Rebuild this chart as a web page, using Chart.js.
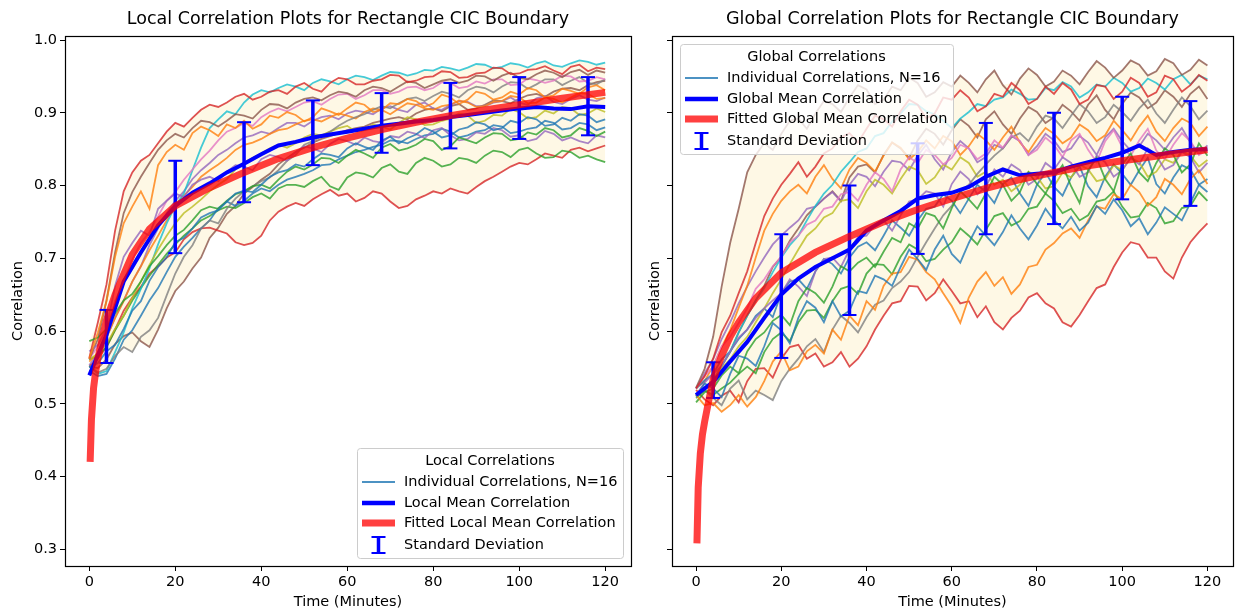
<!DOCTYPE html>
<html>
<head>
<meta charset="utf-8">
<title>Correlation Plots for Rectangle CIC Boundary</title>
<script src="https://cdn.jsdelivr.net/npm/chart.js@4.4.1/dist/chart.umd.min.js"></script>
<style>
  html, body { margin: 0; padding: 0; background: #fff; overflow: hidden; }
  #wrap { position: relative; width: 1238px; height: 610px; overflow: hidden; }
  canvas { position: absolute; top: 0; }
  #cl { left: 0; }
  #cr { left: 640px; }
</style>
</head>
<body>
<div id="wrap">
  <canvas id="cl" width="640" height="610"></canvas>
  <canvas id="cr" width="602" height="610"></canvas>
</div>
<script>
// sample times (minutes): runs every 2 min, mean every 4 min
const runX = [0,2,4,6,8,10,12,14,16,18,20,22,24,26,28,30,32,34,36,38,40,42,44,46,48,50,52,54,56,58,60,
  62,64,66,68,70,72,74,76,78,80,82,84,86,88,90,92,94,96,98,100,102,104,106,108,110,112,114,116,118,120];
const meanX = [0,4,8,12,16,20,24,28,32,36,40,44,48,52,56,60,64,68,72,76,80,84,88,92,96,100,104,108,112,116,120];
const xTicks = [0,20,40,60,80,100,120];
const yTicks = [0.3,0.4,0.5,0.6,0.7,0.8,0.9,1.0];
const errX = [4,20,36,52,68,84,100,116];
const fitX = [0.2,0.5,1,1.5,2,3,4,6,8,10,14,20,28,36,44,52,60,68,76,84,92,100,110,120];

// ---- local correlations (left)
const localBlueA   = [.550,.556,.572,.581,.603,.628,.641,.669,.688,.701,.722,.728,.741,.756,.762,.766,.778,.789,.793,.791,.801,.812,.818,.821,.829,.826,.836,.844,.842,.839,.851,.858,.853,.849,.862,.867,.858,.865,.870,.879,.874,.866,.869,.877,.880,.887,.884,.876,.879,.889,.886,.894,.891,.882,.884,.893,.889,.898,.896,.887,.891];
const localOrangeA = [.562,.598,.641,.702,.748,.771,.792,.768,.828,.846,.856,.849,.872,.881,.876,.868,.884,.879,.889,.878,.884,.896,.893,.901,.897,.888,.894,.906,.902,.897,.906,.914,.911,.901,.904,.913,.912,.919,.916,.908,.913,.925,.921,.912,.918,.929,.926,.918,.921,.929,.925,.934,.931,.921,.924,.933,.930,.926,.935,.938,.931];
const localGreenA  = [.586,.591,.603,.624,.642,.651,.668,.689,.703,.718,.731,.739,.752,.766,.771,.768,.779,.788,.792,.799,.801,.796,.808,.819,.826,.822,.829,.838,.837,.831,.841,.849,.844,.838,.852,.857,.848,.851,.856,.864,.861,.849,.854,.866,.862,.858,.866,.872,.871,.862,.864,.873,.870,.879,.876,.866,.869,.879,.875,.868,.874];
const localRedA    = [.563,.612,.664,.738,.792,.818,.834,.842,.858,.874,.886,.881,.893,.904,.911,.908,.914,.922,.926,.918,.922,.929,.931,.926,.936,.941,.933,.929,.941,.948,.946,.939,.939,.944,.946,.952,.951,.942,.944,.949,.950,.957,.956,.948,.949,.954,.955,.962,.961,.953,.954,.959,.960,.964,.958,.953,.963,.966,.957,.962,.960];
const localPurpleA = [.572,.581,.603,.662,.702,.721,.738,.731,.768,.779,.789,.784,.801,.808,.812,.806,.819,.828,.826,.821,.836,.842,.839,.834,.846,.854,.851,.846,.857,.864,.861,.856,.866,.861,.859,.868,.866,.874,.871,.865,.876,.879,.869,.862,.864,.873,.871,.879,.876,.867,.869,.861,.864,.875,.871,.862,.866,.861,.858,.869,.866];
const localBrownA  = [.561,.589,.642,.708,.762,.791,.812,.831,.849,.862,.871,.866,.879,.889,.887,.881,.889,.898,.896,.892,.904,.912,.911,.906,.914,.919,.921,.917,.924,.929,.927,.922,.931,.936,.934,.929,.936,.943,.941,.934,.939,.944,.946,.941,.944,.951,.950,.944,.951,.955,.948,.946,.953,.958,.955,.949,.956,.959,.952,.958,.955];
const localPinkA   = [.562,.579,.604,.641,.668,.698,.721,.736,.758,.779,.791,.808,.822,.836,.848,.862,.874,.879,.886,.882,.894,.901,.906,.902,.908,.914,.916,.911,.919,.925,.926,.919,.924,.931,.931,.926,.929,.935,.936,.931,.934,.942,.941,.934,.936,.943,.940,.946,.946,.938,.939,.947,.945,.941,.944,.951,.950,.943,.944,.949,.946];
const localGrayA   = [.552,.543,.548,.566,.578,.571,.592,.601,.618,.649,.679,.702,.718,.741,.752,.748,.768,.782,.792,.799,.806,.811,.821,.834,.842,.856,.861,.868,.874,.882,.889,.894,.898,.904,.909,.906,.913,.919,.921,.916,.923,.929,.926,.921,.931,.936,.934,.928,.936,.942,.941,.933,.939,.946,.946,.938,.944,.949,.941,.939,.946];
const localOliveA  = [.561,.569,.582,.603,.621,.646,.668,.691,.712,.731,.748,.762,.771,.781,.792,.801,.809,.822,.831,.838,.844,.851,.856,.852,.858,.866,.871,.869,.874,.879,.882,.874,.876,.884,.881,.877,.886,.894,.891,.883,.884,.889,.892,.899,.896,.886,.889,.897,.896,.905,.901,.892,.894,.903,.899,.908,.906,.897,.899,.906,.901];
const localCyanA   = [.552,.541,.545,.571,.598,.631,.658,.686,.719,.748,.772,.789,.821,.852,.879,.891,.902,.898,.914,.925,.931,.928,.934,.939,.936,.931,.941,.946,.943,.939,.946,.951,.949,.945,.951,.956,.955,.951,.954,.959,.958,.963,.961,.958,.962,.967,.966,.961,.963,.968,.966,.962,.968,.971,.965,.963,.968,.972,.970,.966,.969];
const localBlueB   = [.545,.538,.541,.562,.588,.601,.621,.642,.659,.681,.702,.716,.728,.741,.752,.769,.778,.772,.779,.789,.796,.792,.801,.808,.812,.816,.821,.828,.829,.836,.841,.846,.849,.853,.856,.862,.861,.858,.864,.869,.871,.878,.874,.866,.869,.874,.876,.883,.881,.872,.874,.878,.880,.889,.886,.877,.879,.886,.884,.876,.880];
const localOrangeB = [.558,.569,.591,.618,.641,.668,.689,.711,.731,.752,.772,.786,.798,.812,.821,.829,.838,.849,.856,.859,.864,.871,.876,.878,.884,.889,.891,.888,.894,.899,.896,.892,.901,.906,.904,.898,.906,.913,.911,.906,.904,.909,.911,.917,.914,.908,.909,.915,.916,.923,.921,.913,.914,.921,.919,.914,.921,.927,.926,.919,.920];
const localGreenB  = [.561,.566,.578,.601,.621,.642,.659,.676,.691,.706,.719,.731,.741,.752,.758,.766,.771,.769,.776,.784,.789,.782,.796,.801,.801,.798,.806,.812,.799,.794,.811,.818,.816,.811,.824,.829,.819,.816,.831,.838,.834,.826,.829,.838,.836,.831,.841,.848,.846,.839,.849,.852,.844,.838,.839,.848,.846,.838,.841,.836,.832];
const localRedB    = [.551,.562,.578,.602,.628,.646,.661,.679,.689,.701,.708,.726,.736,.741,.742,.738,.734,.722,.718,.721,.731,.752,.764,.771,.776,.772,.781,.788,.794,.786,.789,.778,.783,.792,.789,.778,.769,.772,.781,.786,.792,.789,.796,.792,.789,.798,.806,.812,.819,.826,.831,.829,.836,.844,.841,.838,.849,.852,.847,.851,.855];
const localPurpleB = [.553,.569,.591,.618,.642,.668,.689,.718,.741,.762,.779,.792,.809,.821,.831,.842,.849,.858,.866,.869,.874,.871,.879,.886,.886,.881,.889,.894,.896,.891,.899,.903,.901,.898,.906,.909,.904,.901,.911,.914,.906,.904,.911,.916,.915,.909,.909,.914,.916,.921,.914,.911,.920,.923,.915,.912,.919,.924,.918,.916,.921];
const localBrownB  = [.551,.549,.561,.582,.593,.598,.586,.578,.602,.631,.655,.668,.686,.701,.728,.742,.761,.772,.789,.798,.808,.816,.829,.838,.846,.852,.859,.864,.868,.872,.876,.879,.881,.886,.889,.892,.894,.891,.899,.904,.906,.902,.909,.912,.904,.906,.911,.917,.916,.913,.919,.924,.926,.922,.929,.933,.934,.931,.938,.942,.944];
const localMean    = [.539,.595,.668,.708,.745,.772,.790,.803,.818,.830,.843,.855,.860,.866,.870,.874,.878,.882,.885,.888,.890,.894,.897,.900,.903,.906,.908,.906,.905,.909,.908];
const localErrLo   = [.556,.707,.777,.828,.845,.851,.864,.869];
const localErrHi   = [.629,.834,.887,.917,.927,.941,.949,.949];
const localFit     = [.420,.478,.522,.545,.562,.590,.615,.650,.678,.705,.740,.772,.797,.818,.837,.852,.865,.877,.887,.896,.904,.911,.920,.928];

// ---- global correlations (right)
const globalBlueA   = [.510,.528,.521,.509,.541,.566,.562,.552,.579,.611,.601,.583,.618,.641,.632,.612,.641,.620,.628,.655,.652,.676,.671,.662,.688,.712,.699,.684,.712,.731,.706,.694,.721,.744,.731,.718,.736,.759,.741,.726,.745,.768,.752,.741,.757,.738,.749,.772,.761,.781,.766,.744,.755,.733,.749,.770,.761,.752,.776,.801,.791];
const globalOrangeA = [.512,.498,.501,.489,.498,.512,.496,.509,.531,.558,.572,.546,.551,.572,.581,.569,.602,.588,.621,.608,.641,.629,.662,.679,.681,.702,.698,.681,.671,.652,.634,.611,.646,.668,.681,.662,.674,.651,.664,.688,.691,.712,.721,.734,.741,.728,.752,.771,.768,.788,.781,.801,.791,.772,.784,.809,.801,.788,.809,.821,.802];
const globalGreenA  = [.502,.516,.521,.539,.551,.542,.572,.589,.598,.614,.622,.608,.641,.659,.652,.639,.661,.689,.682,.694,.701,.688,.709,.728,.722,.748,.741,.762,.758,.741,.769,.792,.781,.768,.789,.812,.801,.779,.791,.818,.802,.789,.811,.828,.799,.776,.821,.838,.809,.792,.829,.844,.818,.806,.831,.851,.842,.818,.829,.858,.841];
const globalRedA    = [.521,.538,.562,.598,.621,.652,.682,.721,.758,.782,.801,.816,.832,.812,.826,.844,.851,.866,.872,.859,.878,.896,.891,.881,.902,.918,.911,.892,.899,.921,.918,.931,.921,.902,.909,.926,.922,.941,.931,.912,.919,.936,.926,.941,.932,.912,.918,.938,.936,.919,.929,.948,.941,.922,.928,.951,.946,.929,.938,.952,.944];
const globalPurpleA = [.512,.529,.541,.552,.572,.591,.602,.618,.631,.642,.652,.671,.661,.648,.682,.699,.701,.688,.712,.729,.731,.746,.752,.738,.759,.778,.781,.792,.789,.771,.802,.819,.809,.788,.798,.822,.812,.829,.821,.801,.809,.831,.822,.839,.831,.812,.818,.841,.832,.812,.821,.838,.829,.851,.841,.822,.828,.846,.839,.818,.831];
const globalBrownA  = [.522,.548,.592,.661,.721,.768,.818,.842,.858,.849,.871,.889,.892,.878,.899,.916,.912,.901,.921,.938,.932,.912,.918,.936,.931,.948,.941,.922,.928,.942,.936,.951,.941,.928,.946,.958,.938,.925,.947,.961,.952,.936,.943,.958,.951,.939,.956,.971,.962,.948,.958,.972,.966,.951,.957,.974,.968,.952,.959,.973,.965];
const globalPinkA   = [.521,.538,.551,.579,.592,.611,.631,.658,.671,.689,.702,.722,.731,.746,.752,.768,.771,.788,.791,.779,.801,.818,.809,.792,.822,.839,.831,.849,.842,.829,.838,.856,.851,.836,.844,.862,.852,.869,.861,.842,.849,.866,.856,.839,.862,.871,.849,.832,.861,.876,.853,.841,.862,.878,.848,.836,.856,.872,.861,.842,.849];
const globalGrayA   = [.512,.519,.508,.498,.521,.532,.506,.518,.512,.505,.531,.548,.562,.579,.589,.571,.602,.621,.611,.598,.619,.636,.642,.659,.668,.681,.702,.722,.741,.759,.772,.791,.801,.816,.829,.841,.851,.866,.872,.861,.881,.896,.892,.879,.896,.912,.902,.886,.894,.911,.901,.889,.906,.918,.899,.886,.904,.921,.909,.891,.903];
const globalOliveA  = [.511,.522,.531,.549,.561,.579,.592,.612,.631,.652,.671,.692,.712,.731,.741,.756,.762,.779,.781,.769,.792,.808,.801,.789,.809,.826,.821,.802,.811,.829,.822,.839,.831,.812,.819,.801,.808,.792,.801,.819,.812,.796,.799,.818,.811,.829,.822,.806,.809,.828,.821,.838,.832,.812,.819,.836,.831,.848,.841,.826,.835];
const globalCyanA   = [.512,.521,.531,.552,.572,.598,.621,.642,.659,.681,.701,.718,.731,.752,.772,.789,.801,.819,.832,.846,.851,.868,.872,.888,.899,.912,.911,.902,.898,.889,.879,.892,.901,.912,.909,.918,.921,.932,.926,.918,.919,.934,.931,.942,.936,.921,.928,.939,.936,.948,.941,.929,.934,.947,.941,.932,.946,.952,.939,.951,.946];
const globalBlueB   = [.521,.532,.541,.561,.572,.589,.602,.621,.631,.619,.652,.668,.671,.658,.682,.699,.692,.679,.701,.716,.722,.711,.731,.752,.742,.731,.752,.768,.771,.788,.779,.762,.782,.801,.791,.776,.802,.811,.789,.772,.801,.818,.798,.786,.811,.826,.799,.784,.812,.829,.816,.801,.821,.838,.802,.789,.811,.828,.822,.801,.809];
const globalOrangeB = [.522,.531,.552,.578,.601,.632,.662,.701,.738,.761,.779,.792,.801,.789,.812,.828,.809,.796,.822,.838,.831,.819,.841,.859,.852,.836,.846,.862,.851,.868,.861,.842,.854,.871,.862,.849,.866,.881,.859,.846,.864,.879,.871,.858,.866,.884,.876,.861,.869,.889,.876,.862,.881,.896,.874,.861,.879,.892,.886,.868,.881];
const globalGreenB  = [.508,.518,.512,.521,.529,.541,.551,.542,.571,.589,.598,.586,.612,.628,.629,.618,.641,.658,.662,.651,.679,.692,.691,.678,.702,.719,.712,.696,.699,.712,.722,.741,.731,.719,.739,.758,.762,.745,.751,.768,.771,.789,.779,.762,.768,.752,.759,.778,.781,.792,.771,.756,.758,.776,.769,.748,.751,.769,.772,.791,.779];
const globalRedB    = [.519,.506,.498,.511,.518,.502,.531,.548,.549,.536,.562,.578,.581,.562,.569,.551,.557,.571,.551,.562,.579,.602,.621,.638,.641,.662,.661,.642,.652,.671,.655,.638,.641,.619,.634,.612,.602,.618,.628,.646,.652,.638,.631,.612,.606,.622,.641,.659,.664,.688,.708,.722,.719,.701,.701,.682,.672,.701,.722,.736,.748];
const globalPurpleB = [.521,.542,.561,.589,.612,.638,.661,.682,.701,.719,.731,.742,.752,.768,.771,.782,.791,.778,.801,.816,.812,.799,.819,.834,.832,.821,.841,.856,.836,.822,.846,.861,.851,.832,.839,.856,.851,.868,.861,.842,.854,.871,.862,.846,.851,.868,.859,.842,.866,.878,.861,.848,.854,.871,.862,.849,.866,.879,.859,.843,.855];
const globalBrownB  = [.511,.519,.532,.552,.571,.598,.621,.642,.662,.688,.702,.724,.741,.759,.771,.782,.792,.779,.811,.826,.829,.818,.842,.859,.851,.838,.862,.878,.871,.856,.876,.891,.882,.866,.891,.902,.884,.871,.892,.908,.901,.886,.894,.911,.902,.889,.911,.924,.904,.891,.912,.928,.921,.906,.914,.931,.922,.908,.926,.936,.919];
const globalMean    = [.512,.530,.558,.585,.618,.650,.672,.688,.700,.712,.738,.752,.765,.782,.787,.790,.798,.812,.822,.814,.816,.818,.826,.832,.838,.845,.855,.842,.846,.849,.850];
const globalErrLo   = [.508,.563,.622,.706,.733,.747,.781,.772];
const globalErrHi   = [.557,.733,.800,.858,.886,.900,.922,.916];
const globalFit     = [.308,.385,.432,.458,.475,.505,.533,.566,.592,.612,.645,.680,.708,.730,.750,.767,.782,.796,.808,.818,.827,.834,.842,.849];

const localSeries = [localBlueA, localOrangeA, localGreenA, localRedA, localPurpleA, localBrownA, localPinkA, localGrayA,
  localOliveA, localCyanA, localBlueB, localOrangeB, localGreenB, localRedB, localPurpleB, localBrownB];
const globalSeries = [globalBlueA, globalOrangeA, globalGreenA, globalRedA, globalPurpleA, globalBrownA, globalPinkA, globalGrayA,
  globalOliveA, globalCyanA, globalBlueB, globalOrangeB, globalGreenB, globalRedB, globalPurpleB, globalBrownB];

// matplotlib tab10
const tab10 = ['31,119,180','255,127,14','44,160,44','214,39,40','148,103,189','140,86,75','227,119,194','127,127,127','188,189,34','23,190,207'];

const FS = 14.5;   // tick / label / legend font size
Chart.defaults.font.family = '"DejaVu Sans", sans-serif';
Chart.defaults.color = '#000';

function pts(xs, ys) {
  return xs.map((x, i) => ({ x: x, y: ys[i] }));
}

function makeDatasets(series, mean, errLo, errHi, fit) {
  const upper = runX.map((x, i) => ({ x: x, y: Math.max(...series.map(s => s[i])) }));
  const lower = runX.map((x, i) => ({ x: x, y: Math.min(...series.map(s => s[i])) }));
  const sets = [
    { data: upper, fill: '+1', backgroundColor: 'rgba(245,205,80,0.15)', borderColor: 'rgba(0,0,0,0)', borderWidth: 0, pointRadius: 0, order: 5 },
    { data: lower, fill: false, borderColor: 'rgba(0,0,0,0)', borderWidth: 0, pointRadius: 0, order: 5 }
  ];
  series.forEach((s, i) => {
    sets.push({ data: pts(runX, s), borderColor: 'rgba(' + tab10[i % 10] + ',0.8)', borderWidth: 1.8, pointRadius: 0, fill: false, order: 4 });
  });
  sets.push({ data: pts(meanX, mean), borderColor: '#0000ff', borderWidth: 4, pointRadius: 0, fill: false, order: 3 });

  // error bars: vertical segments split by gaps, caps drawn as 'line' points
  const bars = [];
  errX.forEach((x, i) => {
    bars.push({ x: x, y: errLo[i] }, { x: x, y: errHi[i] }, { x: x, y: null });
  });
  sets.push({ data: bars, borderColor: '#0000ff', borderWidth: 3.5, spanGaps: false, fill: false,
    pointStyle: 'line', pointRadius: 7, pointBorderWidth: 2, pointBorderColor: '#0000ff', order: 2 });

  sets.push({ data: pts(fitX, fit), borderColor: 'rgba(255,0,0,0.75)', borderWidth: 7, borderCapStyle: 'butt', pointRadius: 0, fill: false, order: 1 });
  return sets;
}

const framePlugin = {
  id: 'frame',
  afterDatasetsDraw(chart) {
    const { ctx, chartArea: a } = chart;
    ctx.save();
    ctx.strokeStyle = '#000';
    ctx.lineWidth = 1.2;
    const l = Math.round(a.left) + 0.5, t = Math.round(a.top) + 0.5;
    ctx.strokeRect(l, t, Math.round(a.right) - Math.round(a.left), Math.round(a.bottom) - Math.round(a.top));
    ctx.restore();
  }
};

// matplotlib-like legend box with a title
const boxLegend = {
  id: 'boxLegend',
  afterDraw(chart, args, o) {
    const { ctx, chartArea: a } = chart;
    ctx.save();
    ctx.font = FS + 'px "DejaVu Sans"';
    const textW = Math.max(...o.labels.map(t => ctx.measureText(t).width));
    const w = Math.round(47 + textW + 6), h = 110;
    const x0 = o.corner === 'lower right' ? Math.round(a.right) - 8 - w : Math.round(a.left) + 8;
    const y0 = o.corner === 'lower right' ? Math.round(a.bottom) - 8 - h : Math.round(a.top) + 8;

    ctx.beginPath();
    if (ctx.roundRect) ctx.roundRect(x0 + 0.5, y0 + 0.5, w, h, 3);
    else ctx.rect(x0 + 0.5, y0 + 0.5, w, h);
    ctx.fillStyle = 'rgba(255,255,255,0.8)';
    ctx.fill();
    ctx.strokeStyle = '#cccccc';
    ctx.lineWidth = 1;
    ctx.stroke();

    ctx.fillStyle = '#000';
    ctx.textBaseline = 'middle';
    ctx.textAlign = 'center';
    ctx.fillText(o.title, x0 + w / 2, y0 + 13);

    const rows = [34, 55, 75, 97];
    const icons = [
      { c: 'rgba(31,119,180,0.8)', lw: 2 },
      { c: '#0000ff', lw: 4.5 },
      { c: 'rgba(255,0,0,0.75)', lw: 7 },
      null
    ];
    ctx.textAlign = 'left';
    rows.forEach((dy, i) => {
      const y = y0 + dy;
      const ic = icons[i];
      if (ic) {
        ctx.beginPath();
        ctx.strokeStyle = ic.c;
        ctx.lineWidth = ic.lw;
        ctx.moveTo(x0 + 5, y);
        ctx.lineTo(x0 + 38, y);
        ctx.stroke();
      } else {
        const cx = x0 + 21.5;
        ctx.strokeStyle = '#0000ff';
        ctx.beginPath();
        ctx.lineWidth = 3.5;
        ctx.moveTo(cx, y - 8);
        ctx.lineTo(cx, y + 8);
        ctx.stroke();
        ctx.beginPath();
        ctx.lineWidth = 2;
        ctx.moveTo(cx - 7, y - 8);
        ctx.lineTo(cx + 7, y - 8);
        ctx.moveTo(cx - 7, y + 8);
        ctx.lineTo(cx + 7, y + 8);
        ctx.stroke();
      }
      ctx.fillStyle = '#000';
      ctx.fillText(o.labels[i], x0 + 47, y);
    });
    ctx.restore();
  }
};

function makeChart(id, cfg) {
  return new Chart(document.getElementById(id), {
    type: 'line',
    data: { datasets: makeDatasets(cfg.series, cfg.mean, cfg.errLo, cfg.errHi, cfg.fit) },
    options: {
      responsive: false,
      animation: false,
      devicePixelRatio: 1,
      layout: { padding: { left: 0, right: cfg.padRight, top: 0, bottom: 0 } },
      plugins: {
        legend: { display: false },
        tooltip: { enabled: false },
        title: {
          display: true,
          text: cfg.title,
          fullSize: false,
          color: '#000',
          font: { size: 17.5, weight: 'normal', lineHeight: 1.2 },
          padding: { top: 8.5, bottom: 6.5 }
        },
        boxLegend: cfg.legend
      },
      scales: {
        x: {
          type: 'linear',
          min: -5.65,
          max: 126,
          afterFit: s => { s.height = 44; },
          afterBuildTicks: s => { s.ticks = xTicks.map(v => ({ value: v })); },
          grid: { drawOnChartArea: false, color: '#000', lineWidth: 1, tickLength: 5 },
          border: { display: false },
          ticks: { color: '#000', font: { size: FS, lineHeight: 1.2 }, padding: 2.5, maxRotation: 0, autoSkip: false, callback: v => String(v) },
          title: { display: true, text: 'Time (Minutes)', color: '#000', font: { size: FS, lineHeight: 1 }, padding: { top: 0, bottom: 0.7 } }
        },
        y: {
          type: 'linear',
          min: 0.277,
          max: 1.0055,
          afterFit: s => { s.width = cfg.yWidth; },
          afterBuildTicks: s => { s.ticks = yTicks.map(v => ({ value: v })); },
          grid: { drawOnChartArea: false, color: '#000', lineWidth: 1, tickLength: 5 },
          border: { display: false },
          ticks: { display: cfg.yLabels, color: '#000', font: { size: FS }, padding: 3, autoSkip: false, callback: v => v.toFixed(1) },
          title: { display: true, text: 'Correlation', color: '#000', font: { size: FS, lineHeight: 1 }, padding: { top: cfg.yTitlePad, bottom: 0 } }
        }
      }
    },
    plugins: [framePlugin, boxLegend]
  });
}

makeChart('cl', {
  series: localSeries, mean: localMean, errLo: localErrLo, errHi: localErrHi, fit: localFit,
  title: 'Local Correlation Plots for Rectangle CIC Boundary',
  padRight: 8, yWidth: 65, yLabels: true, yTitlePad: 10.7,
  legend: {
    corner: 'lower right',
    title: 'Local Correlations',
    labels: ['Individual Correlations, N=16', 'Local Mean Correlation', 'Fitted Local Mean Correlation', 'Standard Deviation']
  }
});

makeChart('cr', {
  series: globalSeries, mean: globalMean, errLo: globalErrLo, errHi: globalErrHi, fit: globalFit,
  title: 'Global Correlation Plots for Rectangle CIC Boundary',
  padRight: 3, yWidth: 32, yLabels: false, yTitlePad: 7.7,
  legend: {
    corner: 'upper left',
    title: 'Global Correlations',
    labels: ['Individual Correlations, N=16', 'Global Mean Correlation', 'Fitted Global Mean Correlation', 'Standard Deviation']
  }
});
</script>
</body>
</html>
